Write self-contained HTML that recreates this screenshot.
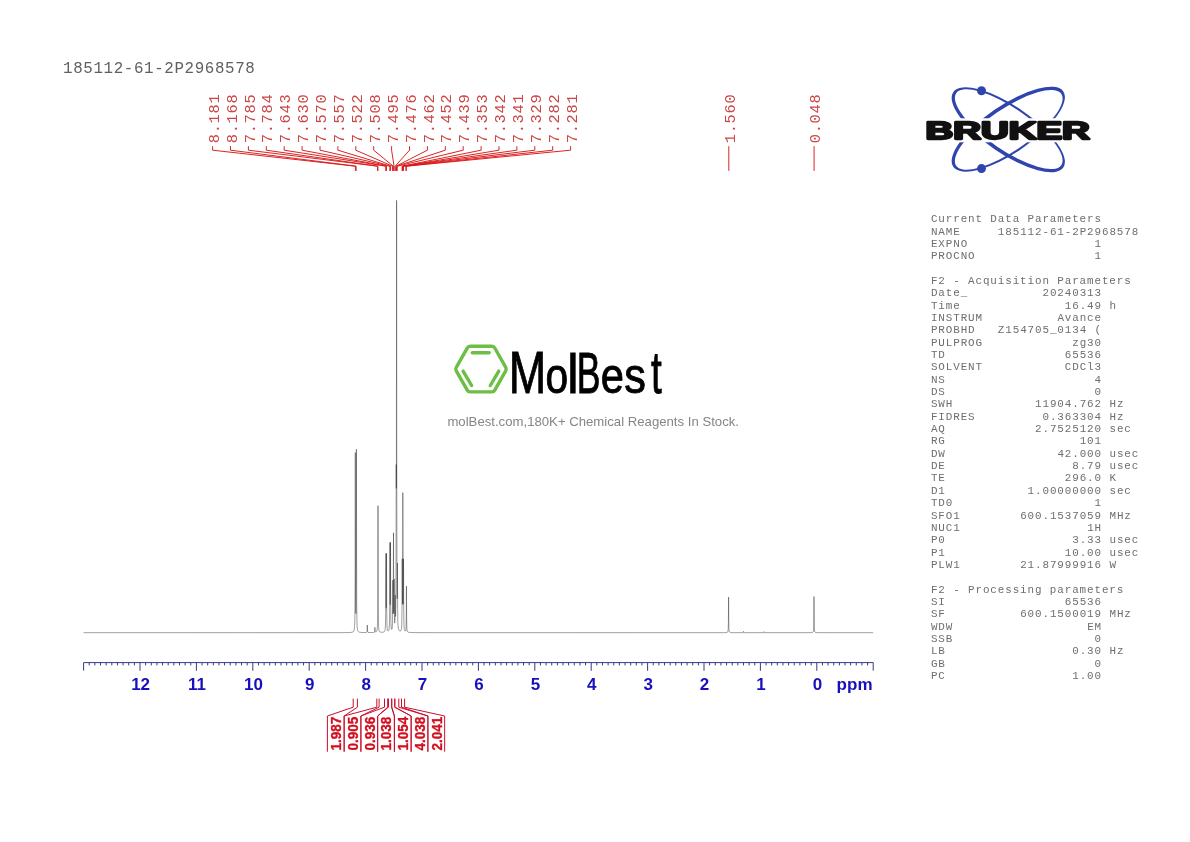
<!DOCTYPE html>
<html><head><meta charset="utf-8"><title>185112-61-2P2968578</title>
<style>
html,body{margin:0;padding:0;background:#fff;}
body{width:1190px;height:842px;overflow:hidden;}
svg{display:block;will-change:transform;}
.mono{font-family:"Liberation Mono","Courier New",monospace;}
.sans{font-family:"Liberation Sans",Arial,sans-serif;}
</style></head><body>
<svg width="1190" height="842" viewBox="0 0 1190 842">
<rect width="1190" height="842" fill="#fff"/>
<text class="mono" x="63.0" y="72.7" font-size="15.8" letter-spacing="0.65" fill="#606060">185112-61-2P2968578</text>
<g class="mono" font-size="15.4" letter-spacing="0.660" fill="#cc4848">
<text transform="translate(218.70,143.2) rotate(-90)">8.181</text>
<text transform="translate(236.60,143.2) rotate(-90)">8.168</text>
<text transform="translate(254.50,143.2) rotate(-90)">7.785</text>
<text transform="translate(272.40,143.2) rotate(-90)">7.784</text>
<text transform="translate(290.30,143.2) rotate(-90)">7.643</text>
<text transform="translate(308.20,143.2) rotate(-90)">7.630</text>
<text transform="translate(326.10,143.2) rotate(-90)">7.570</text>
<text transform="translate(344.00,143.2) rotate(-90)">7.557</text>
<text transform="translate(361.90,143.2) rotate(-90)">7.522</text>
<text transform="translate(379.80,143.2) rotate(-90)">7.508</text>
<text transform="translate(397.70,143.2) rotate(-90)">7.495</text>
<text transform="translate(415.60,143.2) rotate(-90)">7.476</text>
<text transform="translate(433.50,143.2) rotate(-90)">7.462</text>
<text transform="translate(451.40,143.2) rotate(-90)">7.452</text>
<text transform="translate(469.30,143.2) rotate(-90)">7.439</text>
<text transform="translate(487.20,143.2) rotate(-90)">7.353</text>
<text transform="translate(505.10,143.2) rotate(-90)">7.342</text>
<text transform="translate(523.00,143.2) rotate(-90)">7.341</text>
<text transform="translate(540.90,143.2) rotate(-90)">7.329</text>
<text transform="translate(558.80,143.2) rotate(-90)">7.282</text>
<text transform="translate(576.70,143.2) rotate(-90)">7.281</text>
<text transform="translate(734.92,143.2) rotate(-90)">1.560</text>
<text transform="translate(820.19,143.2) rotate(-90)">0.048</text>
</g>
<path d="M212.60,146.2 V150.2 L355.39,166.2 V170.9 M230.50,146.2 V150.2 L356.12,166.2 V170.9 M248.40,146.2 V150.2 L377.73,166.2 V170.9 M266.30,146.2 V150.2 L377.78,166.2 V170.9 M284.20,146.2 V150.2 L385.73,166.2 V170.9 M302.10,146.2 V150.2 L386.47,166.2 V170.9 M320.00,146.2 V150.2 L389.85,166.2 V170.9 M337.90,146.2 V150.2 L390.59,166.2 V170.9 M355.80,146.2 V150.2 L392.56,166.2 V170.9 M373.70,146.2 V150.2 L393.35,166.2 V170.9 M391.60,146.2 V150.2 L394.08,166.2 V170.9 M409.50,146.2 V150.2 L395.15,166.2 V170.9 M427.40,146.2 V150.2 L395.94,166.2 V170.9 M445.30,146.2 V150.2 L396.51,166.2 V170.9 M463.20,146.2 V150.2 L397.24,166.2 V170.9 M481.10,146.2 V150.2 L402.09,166.2 V170.9 M499.00,146.2 V150.2 L402.71,166.2 V170.9 M516.90,146.2 V150.2 L402.77,166.2 V170.9 M534.80,146.2 V150.2 L403.44,166.2 V170.9 M552.70,146.2 V150.2 L406.10,166.2 V170.9 M570.60,146.2 V150.2 L406.15,166.2 V170.9 M728.82,146.2 V170.9 M814.09,146.2 V170.9" fill="none" stroke="#d81818" stroke-width="0.95"/>
<path d="M83.60,632.70 L340.10,632.67 L347.60,632.60 L350.60,632.46 L352.10,632.22 L353.00,631.85 L353.50,631.40 L353.92,630.62 L354.20,629.60 L354.42,628.11 L354.72,623.11 L354.90,614.37 L355.10,578.14 L355.30,452.60 L355.54,588.35 L355.72,610.78 L355.86,613.69 L355.98,610.61 L356.20,575.34 L356.40,449.40 L356.70,602.57 L356.96,622.35 L357.18,626.94 L357.50,629.57 L357.76,630.54 L358.12,631.27 L358.62,631.78 L359.42,632.16 L360.72,632.40 L362.72,632.53 L365.52,632.55 L366.50,632.40 L366.86,631.99 L367.04,631.08 L367.30,625.00 L367.56,631.08 L367.74,631.99 L368.08,632.39 L369.02,632.55 L371.82,632.55 L373.58,632.46 L374.28,632.24 L374.52,631.90 L374.66,631.27 L374.90,627.30 L375.10,630.84 L375.22,631.61 L375.38,631.95 L375.60,632.06 L375.90,632.03 L376.52,631.59 L376.86,630.94 L377.12,629.86 L377.36,627.54 L377.52,623.90 L377.72,610.07 L378.00,505.70 L378.26,607.19 L378.44,622.38 L378.58,626.49 L378.76,628.95 L379.08,630.74 L379.32,631.32 L379.62,631.72 L380.02,632.00 L380.52,632.17 L382.02,632.28 L383.52,632.08 L384.02,631.87 L384.42,631.55 L384.70,631.14 L384.92,630.59 L385.24,628.77 L385.50,623.89 L385.66,613.44 L385.90,553.37 L386.08,599.80 L386.16,607.55 L386.22,608.19 L386.26,606.43 L386.50,553.30 L386.70,607.83 L386.94,624.94 L387.20,628.84 L387.38,629.86 L387.64,630.57 L387.86,630.83 L388.12,630.93 L388.54,630.71 L388.90,629.96 L389.14,628.76 L389.46,623.78 L389.64,612.92 L389.90,542.43 L390.08,595.06 L390.16,603.84 L390.22,604.56 L390.26,602.57 L390.50,542.30 L390.68,600.07 L390.82,617.88 L390.94,623.43 L391.14,627.17 L391.44,629.00 L391.64,629.35 L391.86,629.27 L392.12,628.46 L392.30,626.92 L392.52,620.96 L392.80,580.21 L393.00,610.60 L393.10,614.01 L393.20,610.86 L393.50,532.80 L393.68,594.48 L393.84,612.36 L393.90,613.37 L393.94,612.81 L394.02,608.01 L394.20,578.93 L394.40,613.05 L394.60,622.27 L394.70,623.17 L394.80,622.90 L394.96,619.20 L395.20,595.00 L395.46,616.01 L395.50,616.49 L395.56,616.36 L395.66,614.35 L395.82,605.60 L396.02,567.34 L396.20,464.48 L396.32,488.46 L396.40,469.11 L396.60,200.40 L396.80,499.87 L397.02,587.49 L397.14,598.06 L397.20,598.81 L397.24,597.40 L397.44,562.93 L397.64,606.08 L397.84,621.00 L398.02,625.18 L398.30,627.95 L398.72,629.67 L399.06,630.35 L399.36,630.70 L399.86,630.98 L400.36,630.98 L400.80,630.69 L401.12,630.12 L401.52,628.18 L401.76,624.47 L402.00,608.52 L402.20,558.72 L402.38,598.55 L402.44,603.56 L402.48,604.32 L402.52,603.34 L402.68,576.08 L402.84,492.59 L403.12,598.44 L403.22,604.37 L403.30,600.87 L403.50,558.80 L403.70,608.64 L403.94,624.62 L404.22,628.68 L404.44,629.88 L404.74,630.67 L404.96,630.95 L405.20,631.08 L405.42,631.03 L405.60,630.81 L405.86,629.85 L406.02,628.18 L406.24,619.30 L406.46,586.17 L406.64,617.46 L406.82,627.17 L406.98,629.66 L407.22,631.04 L407.62,631.81 L408.36,632.22 L410.16,632.47 L413.96,632.59 L433.46,632.68 L713.96,632.70 L723.56,632.68 L726.36,632.58 L727.26,632.37 L727.74,631.90 L728.02,631.00 L728.20,629.30 L728.40,622.13 L728.60,597.10 L728.78,620.50 L728.92,627.66 L729.04,629.84 L729.24,631.29 L729.52,632.00 L730.00,632.40 L730.82,632.58 L732.42,632.66 L742.68,632.66 L743.04,632.60 L743.24,632.44 L743.50,631.40 L743.68,632.25 L743.82,632.51 L744.12,632.64 L744.86,632.69 L763.14,632.67 L763.54,632.62 L763.74,632.48 L764.00,631.60 L764.30,632.53 L764.58,632.65 L765.20,632.69 L806.02,632.69 L811.62,632.59 L812.60,632.39 L813.12,631.93 L813.42,630.97 L813.60,629.24 L813.80,621.95 L814.00,596.50 L814.18,620.29 L814.32,627.57 L814.60,631.08 L814.86,631.89 L815.26,632.32 L815.72,632.49 L816.42,632.60 L819.72,632.68 L873.20,632.70" fill="none" stroke="#1a1a1a" stroke-width="0.42" stroke-linejoin="round"/>
<path d="M83.60,670.6 V662.6 H873.20 V670.6 M89.24,662.6 V665.4 M94.88,662.6 V665.4 M100.52,662.6 V665.4 M106.16,662.6 V665.4 M111.80,662.6 V665.4 M117.44,662.6 V665.4 M123.08,662.6 V665.4 M128.72,662.6 V665.4 M134.36,662.6 V665.4 M140.00,662.6 V670.8 M145.64,662.6 V665.4 M151.28,662.6 V665.4 M156.92,662.6 V665.4 M162.56,662.6 V665.4 M168.20,662.6 V665.4 M173.84,662.6 V665.4 M179.48,662.6 V665.4 M185.12,662.6 V665.4 M190.76,662.6 V665.4 M196.40,662.6 V670.8 M202.04,662.6 V665.4 M207.68,662.6 V665.4 M213.32,662.6 V665.4 M218.96,662.6 V665.4 M224.60,662.6 V665.4 M230.24,662.6 V665.4 M235.88,662.6 V665.4 M241.52,662.6 V665.4 M247.16,662.6 V665.4 M252.80,662.6 V670.8 M258.44,662.6 V665.4 M264.08,662.6 V665.4 M269.72,662.6 V665.4 M275.36,662.6 V665.4 M281.00,662.6 V665.4 M286.64,662.6 V665.4 M292.28,662.6 V665.4 M297.92,662.6 V665.4 M303.56,662.6 V665.4 M309.20,662.6 V670.8 M314.84,662.6 V665.4 M320.48,662.6 V665.4 M326.12,662.6 V665.4 M331.76,662.6 V665.4 M337.40,662.6 V665.4 M343.04,662.6 V665.4 M348.68,662.6 V665.4 M354.32,662.6 V665.4 M359.96,662.6 V665.4 M365.60,662.6 V670.8 M371.24,662.6 V665.4 M376.88,662.6 V665.4 M382.52,662.6 V665.4 M388.16,662.6 V665.4 M393.80,662.6 V665.4 M399.44,662.6 V665.4 M405.08,662.6 V665.4 M410.72,662.6 V665.4 M416.36,662.6 V665.4 M422.00,662.6 V670.8 M427.64,662.6 V665.4 M433.28,662.6 V665.4 M438.92,662.6 V665.4 M444.56,662.6 V665.4 M450.20,662.6 V665.4 M455.84,662.6 V665.4 M461.48,662.6 V665.4 M467.12,662.6 V665.4 M472.76,662.6 V665.4 M478.40,662.6 V670.8 M484.04,662.6 V665.4 M489.68,662.6 V665.4 M495.32,662.6 V665.4 M500.96,662.6 V665.4 M506.60,662.6 V665.4 M512.24,662.6 V665.4 M517.88,662.6 V665.4 M523.52,662.6 V665.4 M529.16,662.6 V665.4 M534.80,662.6 V670.8 M540.44,662.6 V665.4 M546.08,662.6 V665.4 M551.72,662.6 V665.4 M557.36,662.6 V665.4 M563.00,662.6 V665.4 M568.64,662.6 V665.4 M574.28,662.6 V665.4 M579.92,662.6 V665.4 M585.56,662.6 V665.4 M591.20,662.6 V670.8 M596.84,662.6 V665.4 M602.48,662.6 V665.4 M608.12,662.6 V665.4 M613.76,662.6 V665.4 M619.40,662.6 V665.4 M625.04,662.6 V665.4 M630.68,662.6 V665.4 M636.32,662.6 V665.4 M641.96,662.6 V665.4 M647.60,662.6 V670.8 M653.24,662.6 V665.4 M658.88,662.6 V665.4 M664.52,662.6 V665.4 M670.16,662.6 V665.4 M675.80,662.6 V665.4 M681.44,662.6 V665.4 M687.08,662.6 V665.4 M692.72,662.6 V665.4 M698.36,662.6 V665.4 M704.00,662.6 V670.8 M709.64,662.6 V665.4 M715.28,662.6 V665.4 M720.92,662.6 V665.4 M726.56,662.6 V665.4 M732.20,662.6 V665.4 M737.84,662.6 V665.4 M743.48,662.6 V665.4 M749.12,662.6 V665.4 M754.76,662.6 V665.4 M760.40,662.6 V670.8 M766.04,662.6 V665.4 M771.68,662.6 V665.4 M777.32,662.6 V665.4 M782.96,662.6 V665.4 M788.60,662.6 V665.4 M794.24,662.6 V665.4 M799.88,662.6 V665.4 M805.52,662.6 V665.4 M811.16,662.6 V665.4 M816.80,662.6 V670.8 M822.44,662.6 V665.4 M828.08,662.6 V665.4 M833.72,662.6 V665.4 M839.36,662.6 V665.4 M845.00,662.6 V665.4 M850.64,662.6 V665.4 M856.28,662.6 V665.4 M861.92,662.6 V665.4 M867.56,662.6 V665.4" fill="none" stroke="#38388c" stroke-width="1"/>
<g class="sans" font-size="17" font-weight="bold" fill="#1810bc" text-anchor="middle">
<text x="140.60" y="689.7">12</text>
<text x="197.00" y="689.7">11</text>
<text x="253.40" y="689.7">10</text>
<text x="309.80" y="689.7">9</text>
<text x="366.20" y="689.7">8</text>
<text x="422.60" y="689.7">7</text>
<text x="479.00" y="689.7">6</text>
<text x="535.40" y="689.7">5</text>
<text x="591.80" y="689.7">4</text>
<text x="648.20" y="689.7">3</text>
<text x="704.60" y="689.7">2</text>
<text x="761.00" y="689.7">1</text>
<text x="817.40" y="689.7">0</text>
</g>
<text class="sans" x="872.5" y="689.7" font-size="17" font-weight="bold" fill="#1810bc" text-anchor="end">ppm</text>
<path d="M353.20,698.6 V707.2 L327.40,716.0 V751.7 M357.40,698.6 V707.2 L344.15,716.0 V751.7 M376.80,698.6 V707.2 L344.15,716.0 V751.7 M379.10,698.6 V707.2 L360.90,716.0 V751.7 M384.50,698.6 V707.2 L360.90,716.0 V751.7 M387.70,698.6 V707.2 L377.65,716.0 V751.7 M388.50,698.6 V707.2 L377.65,716.0 V751.7 M391.60,698.6 V707.2 L394.40,716.0 V751.7 M391.80,698.6 V707.2 L394.40,716.0 V751.7 M394.70,698.6 V707.2 L411.15,716.0 V751.7 M394.90,698.6 V707.2 L411.15,716.0 V751.7 M398.80,698.6 V707.2 L427.90,716.0 V751.7 M401.50,698.6 V707.2 L427.90,716.0 V751.7 M404.60,698.6 V707.2 L444.65,716.0 V751.7" fill="none" stroke="#c8102e" stroke-width="1.0"/>
<g class="sans" font-size="13.5" font-weight="bold" fill="#d0101e" stroke="#d0101e" stroke-width="0.3" text-anchor="middle">
<text transform="translate(341.07,733.6) rotate(-90) scale(1,1.12)">1.987</text>
<text transform="translate(357.82,733.6) rotate(-90) scale(1,1.12)">0.905</text>
<text transform="translate(374.57,733.6) rotate(-90) scale(1,1.12)">0.936</text>
<text transform="translate(391.32,733.6) rotate(-90) scale(1,1.12)">1.038</text>
<text transform="translate(408.07,733.6) rotate(-90) scale(1,1.12)">1.054</text>
<text transform="translate(424.82,733.6) rotate(-90) scale(1,1.12)">4.038</text>
<text transform="translate(441.57,733.6) rotate(-90) scale(1,1.12)">2.041</text>
</g>
<!-- MolBest watermark -->
<g fill="none" stroke="#6dbe45" stroke-width="3.4" stroke-linecap="round" stroke-linejoin="round">
<path d="M456.28,370.84 Q455.30,369.10 456.28,367.36 L467.22,348.04 Q468.20,346.30 470.20,346.30 L491.80,346.30 Q493.80,346.30 494.78,348.04 L505.72,367.36 Q506.70,369.10 505.72,370.84 L494.78,390.16 Q493.80,391.90 491.80,391.90 L470.20,391.90 Q468.20,391.90 467.22,390.16 Z"/>
<path d="M472.3,352.7 H489.2 M463.1,371.1 L471.6,385.5 M498.8,371.1 L490.3,385.5"/>
</g>
<text class="sans" y="393.25" fill="#000" stroke="#000" stroke-width="0.9"><tspan x="508.76" font-size="58.3" textLength="37.48" lengthAdjust="spacingAndGlyphs">M</tspan><tspan x="545.44" font-size="49.5" textLength="22.62" lengthAdjust="spacingAndGlyphs">o</tspan><tspan x="567.22" font-size="56.1" textLength="11.35" lengthAdjust="spacingAndGlyphs">l</tspan><tspan x="576.84" font-size="57.7" textLength="23.70" lengthAdjust="spacingAndGlyphs">B</tspan><tspan x="600.80" font-size="50.4" textLength="23.19" lengthAdjust="spacingAndGlyphs">e</tspan><tspan x="624.24" font-size="50.4" textLength="21.67" lengthAdjust="spacingAndGlyphs">s</tspan><tspan x="651.07" font-size="59.8" textLength="10.75" lengthAdjust="spacingAndGlyphs">t</tspan></text>
<text class="sans" x="447.4" y="426.4" font-size="13.5" fill="#858585" textLength="291.6" lengthAdjust="spacingAndGlyphs">molBest.com,180K+ Chemical Reagents In Stock.</text>
<!-- Bruker logo -->
<g fill="#2f45ad" fill-rule="evenodd">
<g transform="translate(1008.5,129.5) rotate(34.4)"><path d="M-66.70,0.40 a66.70,23.70 0 1,0 133.40,0 a66.70,23.70 0 1,0 -133.40,0 Z M-63.70,-0.40 a63.70,20.90 0 1,0 127.40,0 a63.70,20.90 0 1,0 -127.40,0 Z"/></g>
<g transform="translate(1008.5,129.5) rotate(-34.4)"><path d="M-66.70,-0.40 a66.70,23.70 0 1,0 133.40,0 a66.70,23.70 0 1,0 -133.40,0 Z M-63.70,0.40 a63.70,20.90 0 1,0 127.40,0 a63.70,20.90 0 1,0 -127.40,0 Z"/></g>
<circle cx="981.5" cy="90.8" r="4.5"/>
<circle cx="981.5" cy="168.6" r="4.5"/>
</g>
<rect x="923" y="118.4" width="170" height="23.2" fill="#fff"/>
<text class="sans" x="925.4" y="138.9" font-size="24.8" font-weight="bold" fill="#fff" stroke="#fff" stroke-width="6.6" textLength="164.4" lengthAdjust="spacingAndGlyphs">BRUKER</text>
<text class="sans" x="925.4" y="138.9" font-size="24.8" font-weight="bold" fill="#111" stroke="#111" stroke-width="2.3" stroke-linejoin="round" textLength="164.4" lengthAdjust="spacingAndGlyphs">BRUKER</text>
<g class="mono" font-size="10.9" letter-spacing="0.900" fill="#6e6e6e">
<text x="930.90" y="222.20">Current Data Parameters</text>
<text x="930.90" y="234.55">NAME</text>
<text x="997.86" y="234.55">185112-61-2P2968578</text>
<text x="930.90" y="246.89">EXPNO</text>
<text x="1094.58" y="246.89">1</text>
<text x="930.90" y="259.24">PROCNO</text>
<text x="1094.58" y="259.24">1</text>
<text x="930.90" y="283.94">F2 - Acquisition Parameters</text>
<text x="930.90" y="296.28">Date_</text>
<text x="1042.50" y="296.28">20240313</text>
<text x="930.90" y="308.63">Time</text>
<text x="1064.82" y="308.63">16.49</text>
<text x="1109.46" y="308.63">h</text>
<text x="930.90" y="320.98">INSTRUM</text>
<text x="1057.38" y="320.98">Avance</text>
<text x="930.90" y="333.32">PROBHD</text>
<text x="997.86" y="333.32">Z154705_0134&#160;(</text>
<text x="930.90" y="345.67">PULPROG</text>
<text x="1072.26" y="345.67">zg30</text>
<text x="930.90" y="358.02">TD</text>
<text x="1064.82" y="358.02">65536</text>
<text x="930.90" y="370.36">SOLVENT</text>
<text x="1064.82" y="370.36">CDCl3</text>
<text x="930.90" y="382.71">NS</text>
<text x="1094.58" y="382.71">4</text>
<text x="930.90" y="395.06">DS</text>
<text x="1094.58" y="395.06">0</text>
<text x="930.90" y="407.40">SWH</text>
<text x="1035.06" y="407.40">11904.762</text>
<text x="1109.46" y="407.40">Hz</text>
<text x="930.90" y="419.75">FIDRES</text>
<text x="1042.50" y="419.75">0.363304</text>
<text x="1109.46" y="419.75">Hz</text>
<text x="930.90" y="432.10">AQ</text>
<text x="1035.06" y="432.10">2.7525120</text>
<text x="1109.46" y="432.10">sec</text>
<text x="930.90" y="444.45">RG</text>
<text x="1079.70" y="444.45">101</text>
<text x="930.90" y="456.79">DW</text>
<text x="1057.38" y="456.79">42.000</text>
<text x="1109.46" y="456.79">usec</text>
<text x="930.90" y="469.14">DE</text>
<text x="1072.26" y="469.14">8.79</text>
<text x="1109.46" y="469.14">usec</text>
<text x="930.90" y="481.49">TE</text>
<text x="1064.82" y="481.49">296.0</text>
<text x="1109.46" y="481.49">K</text>
<text x="930.90" y="493.83">D1</text>
<text x="1027.62" y="493.83">1.00000000</text>
<text x="1109.46" y="493.83">sec</text>
<text x="930.90" y="506.18">TD0</text>
<text x="1094.58" y="506.18">1</text>
<text x="930.90" y="518.53">SFO1</text>
<text x="1020.18" y="518.53">600.1537059</text>
<text x="1109.46" y="518.53">MHz</text>
<text x="930.90" y="530.88">NUC1</text>
<text x="1087.14" y="530.88">1H</text>
<text x="930.90" y="543.22">P0</text>
<text x="1072.26" y="543.22">3.33</text>
<text x="1109.46" y="543.22">usec</text>
<text x="930.90" y="555.57">P1</text>
<text x="1064.82" y="555.57">10.00</text>
<text x="1109.46" y="555.57">usec</text>
<text x="930.90" y="567.92">PLW1</text>
<text x="1020.18" y="567.92">21.87999916</text>
<text x="1109.46" y="567.92">W</text>
<text x="930.90" y="592.61">F2 - Processing parameters</text>
<text x="930.90" y="604.96">SI</text>
<text x="1064.82" y="604.96">65536</text>
<text x="930.90" y="617.30">SF</text>
<text x="1020.18" y="617.30">600.1500019</text>
<text x="1109.46" y="617.30">MHz</text>
<text x="930.90" y="629.65">WDW</text>
<text x="1087.14" y="629.65">EM</text>
<text x="930.90" y="642.00">SSB</text>
<text x="1094.58" y="642.00">0</text>
<text x="930.90" y="654.35">LB</text>
<text x="1072.26" y="654.35">0.30</text>
<text x="1109.46" y="654.35">Hz</text>
<text x="930.90" y="666.69">GB</text>
<text x="1094.58" y="666.69">0</text>
<text x="930.90" y="679.04">PC</text>
<text x="1072.26" y="679.04">1.00</text>
</g>
</svg>
</body></html>
